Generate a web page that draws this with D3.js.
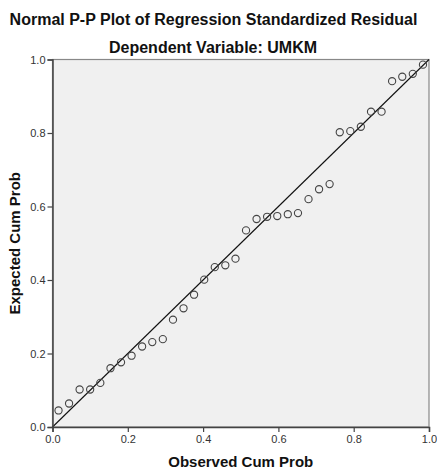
<!DOCTYPE html>
<html>
<head>
<meta charset="utf-8">
<script src="https://cdn.jsdelivr.net/npm/d3@7"></script>
<style>
  body { margin: 0; background: #fff; }
  text { font-family: Arial, "Liberation Sans", sans-serif; }
</style>
</head>
<body>
<div id="chart"></div>
<script>
// observed / expected cumulative probabilities
const observed = [0.016, 0.044, 0.072, 0.100, 0.127, 0.154, 0.182, 0.210, 0.238, 0.265,
    0.293, 0.320, 0.348, 0.376, 0.403, 0.431, 0.459, 0.486, 0.514, 0.542,
    0.570, 0.597, 0.625, 0.652, 0.680, 0.708, 0.736, 0.763, 0.791, 0.819,
    0.846, 0.874, 0.902, 0.929, 0.957, 0.984];
const expected = [0.045, 0.064, 0.102, 0.102, 0.120, 0.160, 0.176, 0.194, 0.219, 0.231,
    0.239, 0.292, 0.323, 0.360, 0.401, 0.435, 0.440, 0.458, 0.535, 0.566,
    0.572, 0.574, 0.579, 0.582, 0.620, 0.647, 0.661, 0.802, 0.805, 0.817,
    0.858, 0.858, 0.941, 0.953, 0.961, 0.986];
const ticks = [0.0, 0.2, 0.4, 0.6, 0.8, 1.0];
const diagonal = [0, 1];

const margin = { top: 59.5, right: 8, bottom: 44, left: 52.5 };
const width = 437 - margin.left - margin.right;
const height = 471 - margin.top - margin.bottom;

const root = d3.select("#chart")
    .append("svg")
    .attr("width", 437)
    .attr("height", 471);

// titulos
root.append("text")
    .attr("x", 213.5).attr("y", 25)
    .attr("text-anchor", "middle")
    .style("font-size", "16px").style("font-weight", "bold")
    .attr("fill", "#111")
    .text("Normal P-P Plot of Regression Standardized Residual");

root.append("text")
    .attr("x", 213).attr("y", 53)
    .attr("text-anchor", "middle")
    .style("font-size", "16px").style("font-weight", "bold")
    .attr("fill", "#111")
    .text("Dependent Variable: UMKM");

const svg = root.append("g")
    .attr("transform", `translate(${margin.left},${margin.top})`);

const xScale = d3.scaleLinear().domain([0, 1]).range([0, width]);
const yScale = d3.scaleLinear().domain([0, 1]).range([height, 0]);

svg.append("rect")
    .attr("width", width).attr("height", height)
    .attr("fill", "#f0f0f0")
    .attr("stroke", "#888")
    .attr("stroke-width", 1.2);

// linea diagonal
svg.append("line")
    .attr("x1", xScale(diagonal[0])).attr("y1", yScale(diagonal[0]))
    .attr("x2", xScale(diagonal[1])).attr("y2", yScale(diagonal[1]))
    .attr("stroke", "#111")
    .attr("stroke-width", 1.1);

// puntos
svg.selectAll("circle")
    .data(observed)
    .enter()
    .append("circle")
    .attr("cx", d => xScale(d))
    .attr("cy", (d, i) => yScale(expected[i]))
    .attr("r", 3.6)
    .attr("fill", "none")
    .attr("stroke", "#444")
    .attr("stroke-width", 1.1);

const xAxis = svg.append("g")
    .attr("transform", `translate(0,${height})`)
    .call(d3.axisBottom(xScale).tickValues(ticks).tickFormat(d3.format(".1f")).tickSize(5).tickPadding(3));

const yAxis = svg.append("g")
    .call(d3.axisLeft(yScale).tickValues(ticks).tickFormat(d3.format(".1f")).tickSize(5).tickPadding(2));

[xAxis, yAxis].forEach(ax => {
    ax.select(".domain").attr("stroke", "#444").attr("stroke-width", 1.5);
    ax.selectAll(".tick line").attr("stroke", "#444").attr("stroke-width", 1.2);
    ax.selectAll(".tick text")
        .attr("fill", "#333")
        .style("font-size", "11px")
        .style("font-family", "Arial, 'Liberation Sans', sans-serif");
});

root.append("text")
    .attr("x", margin.left + width / 2).attr("y", 467)
    .attr("text-anchor", "middle")
    .style("font-size", "15px").style("font-weight", "bold")
    .attr("fill", "#111")
    .text("Observed Cum Prob");

root.append("text")
    .attr("transform", `translate(20,${margin.top + height / 2}) rotate(-90)`)
    .attr("text-anchor", "middle")
    .style("font-size", "15px").style("font-weight", "bold")
    .attr("fill", "#111")
    .text("Expected Cum Prob");
</script>
</body>
</html>
